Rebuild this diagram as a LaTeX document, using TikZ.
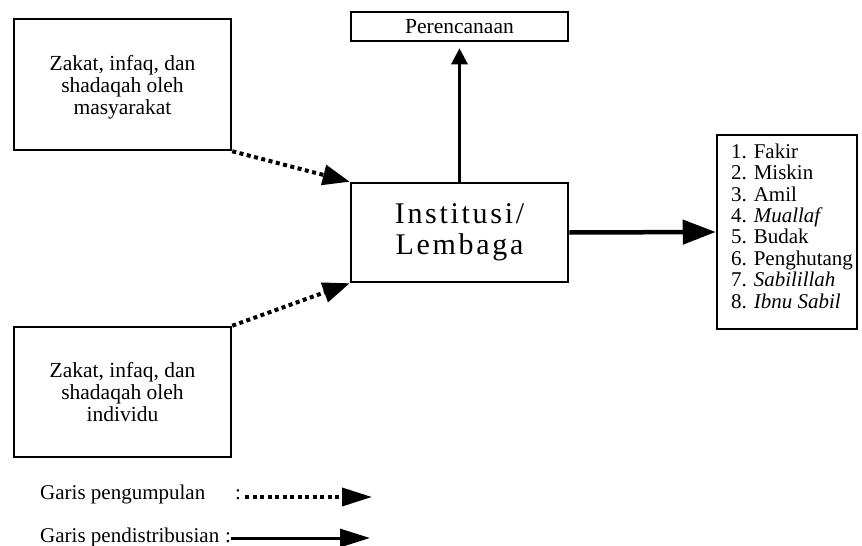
\documentclass[tikz,border=0pt]{standalone}
\usepackage{fontspec}
\setmainfont{Liberation Serif}
\usetikzlibrary{arrows.meta}

\begin{document}
\begin{tikzpicture}[x=1pt, y=-1pt]
    \tikzstyle{box}=[draw, line width=2.5pt, rectangle, inner sep=0pt, align=center,
        font=\fontsize{21.5}{22}\selectfont]
    \tikzstyle{collect}=[-{Triangle[length=27pt, width=20pt]}, line width=4pt,
        dash pattern=on 4pt off 3.5pt]
    \tikzstyle{distribute}=[-{Triangle[length=30pt, width=22pt]}, line width=3.5pt]
    \tikzstyle{legend}=[inner sep=0pt, font=\fontsize{21}{22}\selectfont]

    \useasboundingbox (0, 0) rectangle (862, 546);

    \node (masy) at (122.5, 84.5) [box, minimum width=217pt, minimum height=131pt]
        {\rule{0pt}{20pt}Zakat, infaq, dan\\shadaqah oleh\\masyarakat};
    \node (indiv) at (122.5, 392) [box, minimum width=217pt, minimum height=130pt]
        {Zakat, infaq, dan\\shadaqah oleh\\individu};
    \node (plan) at (459.5, 26.5) [box, minimum width=217pt, minimum height=29pt,
        font=\fontsize{21.5}{22}\selectfont] {Perencanaan};
    \node (inst) at (459.5, 232.5) [box, minimum width=217pt, minimum height=99pt,
        font=\fontsize{30}{31}\selectfont\addfontfeature{LetterSpace=9}]
        {Institusi/\\Lembaga};
    \node (asnaf) at (787, 232) [box, minimum width=140pt, minimum height=194pt,
        align=left, font=\fontsize{21}{21.4}\selectfont]
        {\hspace*{10pt}1. Fakir\\\hspace*{10pt}2. Miskin\\\hspace*{10pt}3. Amil\\
         \hspace*{10pt}4. \textit{Muallaf}\\\hspace*{10pt}5. Budak\\
         \hspace*{10pt}6. Penghutang\\\hspace*{10pt}7. \textit{Sabilillah}\\
         \hspace*{10pt}8. \textit{Ibnu Sabil}\rule[-12pt]{0pt}{12pt}};

    \draw [collect] (masy.south east) to (inst.north west);
    \draw [collect] (indiv.north east) to (inst.south west);
    \draw [distribute, -{Triangle[length=16pt, width=16pt]}, line width=3pt,
        shorten >=6pt] (inst.north) to (plan.south);
    \draw [distribute, -{Triangle[length=33pt, width=24pt]}, line width=4.5pt]
        (inst.east) to (asnaf.west);

    % keterangan
    \node (lg1) at (40, 499) [legend, anchor=base west] {Garis pengumpulan};
    \node (lg2) at (40, 542) [legend, anchor=base west] {Garis pendistribusian};
    \node (col1) at (238, 499) [legend, anchor=base] {:};
    \node (col2) at (228, 542) [legend, anchor=base] {:};
    \coordinate (end1) at (372, 497);
    \coordinate (end2) at (370, 538);

    \draw [collect, -{Triangle[length=30pt, width=18pt]}, line width=3.5pt]
        (col1.east |- end1) ++(4, 0) to (end1);
    \draw [distribute, -{Triangle[length=30pt, width=18pt]}, line width=3pt]
        (col2.east |- end2) to (end2);
\end{tikzpicture}
\end{document}
